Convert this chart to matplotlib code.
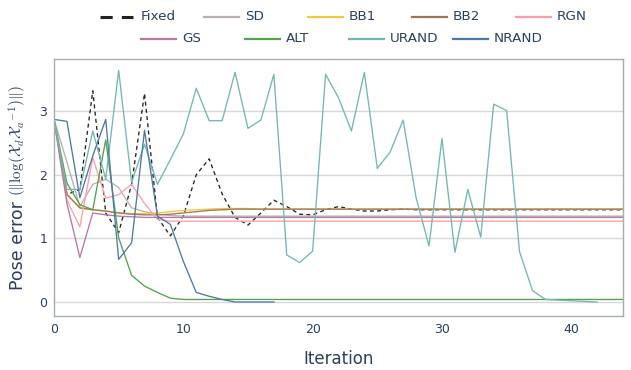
import numpy as np
import matplotlib
matplotlib.use("Agg")
import matplotlib.pyplot as plt
from matplotlib.lines import Line2D

# pose error per iteration
fixed = [2.87, 1.69, 1.77, 3.32, 1.40, 1.09, 1.85, 3.28, 1.33, 1.04,
         1.35, 2.00, 2.25, 1.70, 1.33, 1.21, 1.40, 1.60, 1.50, 1.38,
         1.37, 1.45, 1.50, 1.46, 1.43, 1.43, 1.45, 1.46, 1.45, 1.45,
         1.45, 1.45, 1.45, 1.45, 1.45, 1.45, 1.45, 1.45, 1.45, 1.45,
         1.45, 1.45, 1.45, 1.45, 1.45]
sd = [2.87, 2.20, 1.50, 1.85, 1.93, 1.80, 1.48, 1.42, 1.38, 1.36,
      1.35, 1.35, 1.35, 1.35, 1.35, 1.35, 1.35, 1.35, 1.35, 1.35,
      1.35, 1.35, 1.35, 1.35, 1.35, 1.35, 1.35, 1.35, 1.35, 1.35,
      1.35, 1.35, 1.35, 1.35, 1.35, 1.35, 1.35, 1.35, 1.35, 1.35,
      1.35, 1.35, 1.35, 1.35, 1.35]
bb1 = [2.87, 1.69, 1.48, 1.45, 1.43, 1.40, 1.39, 1.39, 1.40, 1.42,
       1.44, 1.45, 1.46, 1.47, 1.47, 1.47, 1.46, 1.46, 1.46, 1.46,
       1.46, 1.46, 1.46, 1.46, 1.46, 1.46, 1.46, 1.46, 1.46, 1.46,
       1.46, 1.46, 1.46, 1.46, 1.46, 1.46, 1.46, 1.46, 1.46, 1.46,
       1.46, 1.46, 1.46, 1.46, 1.46]
bb2 = [2.87, 1.69, 1.48, 1.45, 1.43, 1.40, 1.38, 1.37, 1.37, 1.38,
       1.40, 1.42, 1.44, 1.45, 1.46, 1.46, 1.46, 1.46, 1.46, 1.46,
       1.46, 1.46, 1.46, 1.46, 1.46, 1.46, 1.46, 1.46, 1.46, 1.46,
       1.46, 1.46, 1.46, 1.46, 1.46, 1.46, 1.46, 1.46, 1.46, 1.46,
       1.46, 1.46, 1.46, 1.46, 1.46]
rgn = [2.87, 1.60, 1.18, 2.27, 1.63, 1.69, 1.85, 1.55, 1.30, 1.27,
       1.27, 1.27, 1.27, 1.27, 1.27, 1.27, 1.27, 1.27, 1.27, 1.27,
       1.27, 1.27, 1.27, 1.27, 1.27, 1.27, 1.27, 1.27, 1.27, 1.27,
       1.27, 1.27, 1.27, 1.27, 1.27, 1.27, 1.27, 1.27, 1.27, 1.27,
       1.27, 1.27, 1.27, 1.27, 1.27]
gs = [2.87, 1.55, 0.70, 1.40, 1.37, 1.35, 1.34, 1.33, 1.33, 1.33,
      1.33, 1.33, 1.33, 1.33, 1.33, 1.33, 1.33, 1.33, 1.33, 1.33,
      1.33, 1.33, 1.33, 1.33, 1.33, 1.33, 1.33, 1.33, 1.33, 1.33,
      1.33, 1.33, 1.33, 1.33, 1.33, 1.33, 1.33, 1.33, 1.33, 1.33,
      1.33, 1.33, 1.33, 1.33, 1.33]
alt = [2.87, 1.87, 1.53, 1.45, 2.55, 1.01, 0.42, 0.25, 0.15, 0.06,
       0.04, 0.04, 0.04, 0.04, 0.04, 0.04, 0.04, 0.04, 0.04, 0.04,
       0.04, 0.04, 0.04, 0.04, 0.04, 0.04, 0.04, 0.04, 0.04, 0.04,
       0.04, 0.04, 0.04, 0.04, 0.04, 0.04, 0.04, 0.04, 0.04, 0.04,
       0.04, 0.04, 0.04, 0.04, 0.04]
urand = [2.87, 1.77, 1.77, 2.69, 1.93, 3.64, 1.88, 2.48, 1.85, 2.24,
         2.64, 3.36, 2.85, 2.85, 3.61, 2.73, 2.86, 3.58, 0.74, 0.62,
         0.80, 3.58, 3.21, 2.69, 3.61, 2.10, 2.36, 2.86, 1.64, 0.88,
         2.57, 0.78, 1.77, 1.02, 3.11, 3.01, 0.79, 0.18, 0.04, 0.03,
         0.02, 0.01, 0.00]
nrand = [2.87, 2.84, 1.64, 2.30, 2.87, 0.67, 0.93, 2.70, 1.35, 1.22,
         0.64, 0.15, 0.09, 0.04, 0.00, 0.00, 0.00, 0.00]

names = ["Fixed", "SD", "BB1", "BB2", "RGN", "GS", "ALT", "URAND", "NRAND"]
series = [fixed, sd, bb1, bb2, rgn, gs, alt, urand, nrand]
colors = ["#222222", "#BAB0AC", "#EECA3B", "#9D755D", "#FF9DA6",
          "#B279A2", "#54A24B", "#72B7B2", "#4C78A8"]

txt = "#2a3f5f"
plt.rcParams["font.family"] = ["DejaVu Sans"]
plt.rcParams["mathtext.fontset"] = "cm"

W, H = 631, 370
fig = plt.figure(figsize=(W / 100, H / 100), dpi=100)
ax = fig.add_axes([54 / W, 1 - 316 / H, (623 - 54) / W, (316 - 59) / H])

for name, vals, col in zip(names, series, colors):
    ls = (0, (3, 2.5)) if name == "Fixed" else "-"
    ax.plot(np.arange(len(vals)), vals, color=col, lw=0.95, ls=ls)

ax.set_xlim(0, 44)
ax.set_ylim(-0.22, 3.82)
ax.set_xticks([0, 10, 20, 30, 40])
ax.set_yticks([0, 1, 2, 3])
ax.grid(axis="y", color="#d8d8d8", lw=1.0)
ax.set_axisbelow(True)
for s in ax.spines.values():
    s.set_color("#a6afaf")
    s.set_linewidth(1.0)
ax.tick_params(length=0, colors=txt, labelsize=9, pad=5)

ax.set_xlabel("Iteration", color=txt, fontsize=12, labelpad=10)

# y label: plain part plus a smaller math part
fig.canvas.draw()
r = fig.canvas.get_renderer()
ylab_x = 18 / W
t1 = fig.text(ylab_x, 1 - 290 / H, "Pose error ", rotation=90, rotation_mode="anchor",
              ha="left", va="center", color=txt, fontsize=12.5)
bb = t1.get_window_extent(r)
t2 = fig.text(ylab_x, bb.y1 / H, r"$(\|\log(\mathcal{X}_d\mathcal{X}_a{}^{-1})\|)$",
              rotation=90, rotation_mode="anchor", ha="left", va="center",
              color=txt, fontsize=11)

# legend laid out in two centred rows like the original
rows = [(names[:5], colors[:5], 100, 17), (names[5:], colors[5:], 141, 39)]
for labs, cols, x0, y0 in rows:
    for k, (lab, col) in enumerate(zip(labs, cols)):
        xs = x0 + 104 * k
        yf = 1 - y0 / H
        if lab == "Fixed":
            ln = Line2D([xs / W, (xs + 33) / W], [yf, yf], color=col, lw=2.2,
                        ls=(0, (4, 3)), transform=fig.transFigure)
        else:
            ln = Line2D([xs / W, (xs + 35) / W], [yf, yf], color=col, lw=1.6,
                        transform=fig.transFigure)
        fig.add_artist(ln)
        fig.text((xs + 41) / W, yf, lab, color=txt, fontsize=9.7, va="center", ha="left")

fig.savefig("out.png", dpi=100)
